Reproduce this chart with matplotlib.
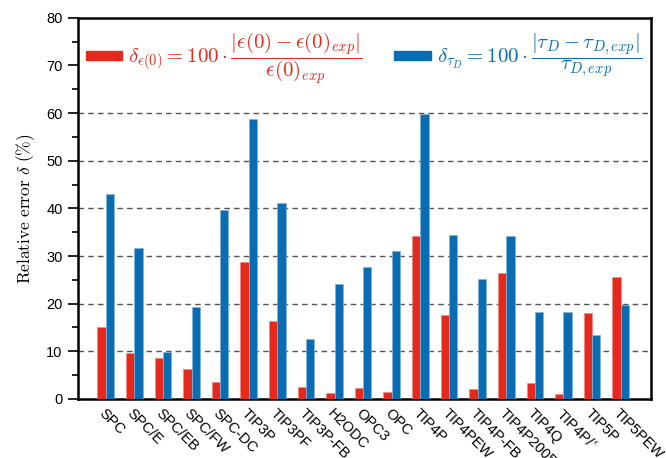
import matplotlib
matplotlib.use('Agg')
import matplotlib.pyplot as plt
import numpy as np
from matplotlib.patches import Patch
from matplotlib.ticker import MultipleLocator

# water models
models = ['SPC', 'SPC/E', 'SPC/EB', 'SPC/FW', 'SPC-DC', 'TIP3P', 'TIP3PF',
          'TIP3P-FB', 'H2ODC', 'OPC3', 'OPC', 'TIP4P', 'TIP4PEW', 'TIP4P-FB',
          'TIP4P2005', 'TIP4Q', r'TIP4P/$^{\epsilon}$', 'TIP5P', 'TIP5PEW']
# relative error on static dielectric constant
err_eps = [15.0, 9.7, 8.5, 6.2, 3.6, 28.7, 16.4, 2.4, 1.3, 2.2,
           1.5, 34.3, 17.6, 2.0, 26.5, 3.3, 1.1, 18.1, 25.6]
# relative error on relaxation time
err_tau = [43.0, 31.6, 9.8, 19.3, 39.7, 58.7, 41.1, 12.6, 24.2, 27.6,
           31.0, 59.8, 34.5, 25.1, 34.1, 18.2, 18.3, 13.5, 19.8]

red = '#e5291d'
blue = '#0a6db3'

plt.rcParams['font.family'] = ['Liberation Sans', 'DejaVu Sans']
plt.rcParams['mathtext.fontset'] = 'cm'

fig = plt.figure(figsize=(6.66, 4.58), dpi=100)
ax = fig.add_axes([0.117, 0.129, 0.86, 0.832])

x = np.arange(len(models))
w = 0.29
ax.bar(x - w / 2, err_eps, w, color=red, edgecolor='#f08a80', linewidth=0.5, zorder=3)
ax.bar(x + w / 2, err_tau, w, color=blue, edgecolor='#7fb4dc', linewidth=0.5, zorder=3)

ax.set_xlim(-0.97, 19.05)
ax.set_ylim(0, 80)
ax.yaxis.set_major_locator(MultipleLocator(10))
ax.yaxis.set_minor_locator(MultipleLocator(5))
ax.tick_params(axis='y', which='major', direction='out', length=7.5, width=1.2, labelsize=10.5)
ax.tick_params(axis='y', which='minor', direction='out', length=4, width=1.2)
ax.tick_params(axis='x', length=0, pad=5)
ax.set_xticks(x)
ax.set_xticklabels(models, rotation=-45, ha='left', va='top',
                   rotation_mode='anchor', fontsize=10.5)

for v in range(10, 70, 10):
    ax.axhline(v, color='#555555', linestyle=(0, (4, 3)), linewidth=1.0, zorder=1)

for s in ax.spines.values():
    s.set_linewidth(1.8)

ax.set_ylabel(r'$\mathrm{Relative\ error}\ \delta\ (\%)$', fontsize=12.5, labelpad=7)

lab_eps = r'$\delta_{\epsilon(0)} = 100 \cdot \dfrac{|\epsilon(0) - \epsilon(0)_{exp}|}{\epsilon(0)_{exp}}$'
lab_tau = r'$\delta_{\tau_D} = 100 \cdot \dfrac{|\tau_D - \tau_{D,exp}|}{\tau_{D,exp}}$'
handles = [Patch(color=red), Patch(color=blue)]
leg = ax.legend(handles, [lab_eps, lab_tau], ncol=2, loc='upper left',
                bbox_to_anchor=(-0.012, 1.005), frameon=False, fontsize=15,
                handlelength=1.75, handleheight=0.3, handletextpad=0.3,
                columnspacing=1.5, borderaxespad=0.3)
for t, c in zip(leg.get_texts(), [red, blue]):
    t.set_color(c)

fig.savefig('out.png', dpi=100)
